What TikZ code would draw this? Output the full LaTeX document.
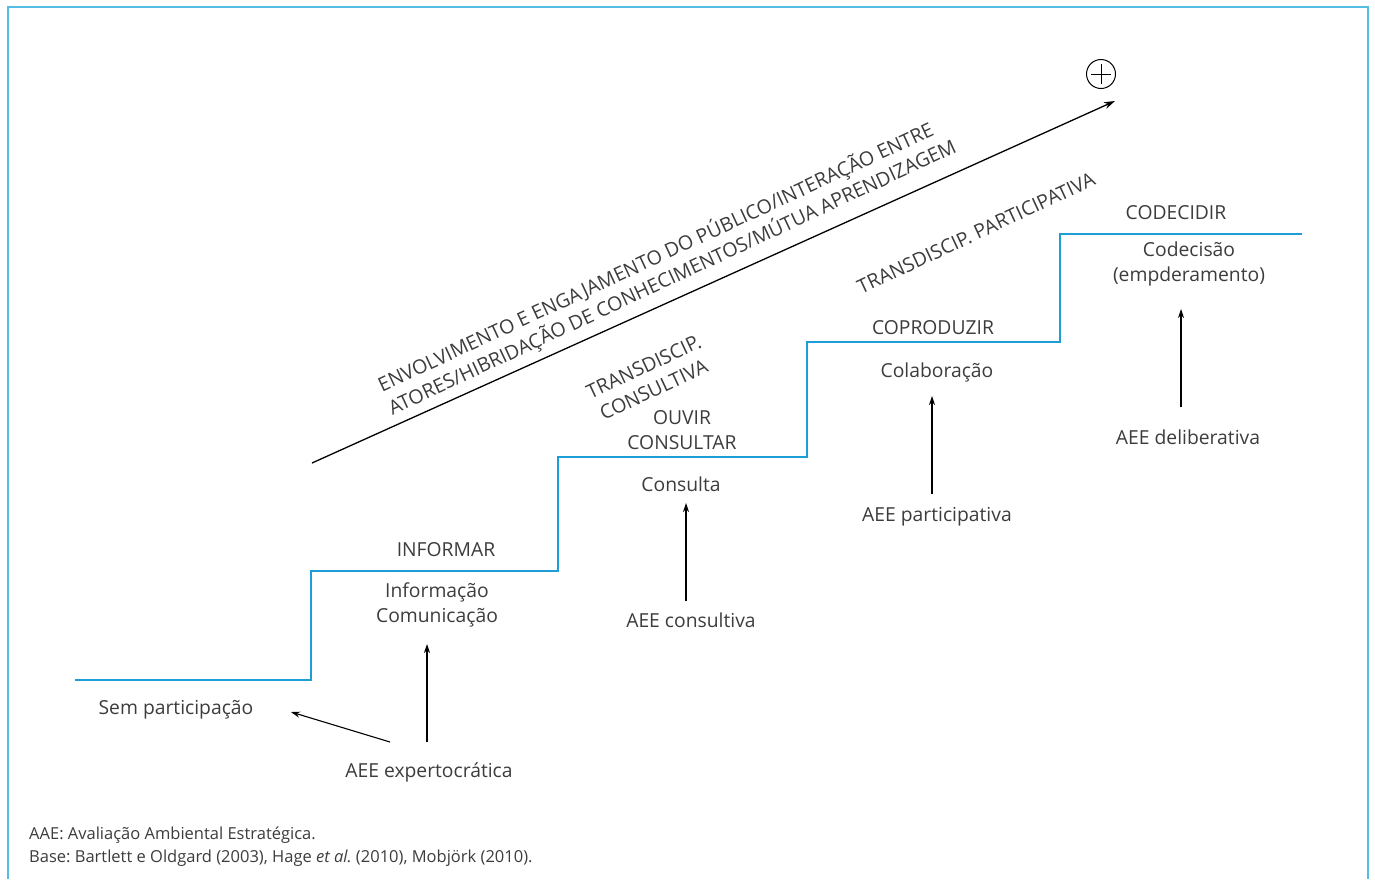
\documentclass[tikz,border=0pt]{standalone}
\usepackage{fontspec}
\setmainfont{Open Sans}
\usetikzlibrary{arrows.meta,calc}
\definecolor{frameblue}{RGB}{85,188,228}
\definecolor{stairblue}{RGB}{30,158,215}
\definecolor{txt}{RGB}{60,60,60}
\frenchspacing
\begin{document}
\begin{tikzpicture}[x=1pt,y=-1pt,
  font=\fontsize{19.3}{25}\selectfont,
  lbl/.style={text=txt, inner sep=0pt, align=center},
  diag/.style={text=txt, inner sep=0pt, align=left, rotate=25, font=\fontsize{19.6}{25}\selectfont},
  note/.style={text=txt, inner sep=0pt, anchor=west, font=\fontsize{16.5}{20}\selectfont},
  arr/.style={-{Stealth[length=9pt,width=6pt]}, line width=1.1pt, black},
  stair/.style={stairblue, line width=1.8pt},
  frame/.style={frameblue, line width=2.2pt}]
\useasboundingbox (0,0) rectangle (1375,879);
% frame
\draw[frame] (8,879) -- (8,7) -- (1368,7) -- (1368,879);
% staircase
\coordinate (s0) at (75,680);
\coordinate (s1) at (311,680);
\coordinate (s2) at (311,571);
\coordinate (s3) at (558,571);
\coordinate (s4) at (558,457);
\coordinate (s5) at (807,457);
\coordinate (s6) at (807,342);
\coordinate (s7) at (1060,342);
\coordinate (s8) at (1060,234);
\coordinate (s9) at (1302,234);
\draw[stair] (s0) -- (s1) -- (s2) -- (s3) -- (s4) -- (s5) -- (s6) -- (s7) -- (s8) -- (s9);
% big arrow and plus
\coordinate (ga) at (312,463);
\coordinate (gb) at (1115,101);
\draw[-{Stealth[length=11pt,width=7pt]}, line width=1.3pt] (ga) -- (gb);
\node[draw, circle, line width=1pt, minimum size=29pt, inner sep=0pt] (plus) at (1101,74) {};
\draw[line width=1pt] ($(plus.center)+(-10,0)$) -- ($(plus.center)+(10,0)$);
\draw[line width=1pt] ($(plus.center)+(0,-10)$) -- ($(plus.center)+(0,10)$);
% diagonal texts
\node[diag] (dmain) at (667,266) {ENVOLVIMENTO E ENGAJAMENTO DO PÚBLICO/INTERAÇÃO ENTRE\\ATORES/HIBRIDAÇÃO DE CONHECIMENTOS/MÚTUA APRENDIZAGEM};
\node[diag] (dcons) at (649,378) {TRANSDISCIP.\\\hspace*{3pt}CONSULTIVA};
\node[diag] (dpart) at (976,233) {TRANSDISCIP. PARTICIPATIVA};
% step labels
\node[lbl] (inf) at (446,550) {INFORMAR};
\node[lbl] (info) at (437,605) {Informação\\Comunicação};
\node[lbl] (ouv) at (682,430) {OUVIR\\CONSULTAR};
\node[lbl] (cons) at (681,484) {Consulta};
\node[lbl] (cop) at (933,328) {COPRODUZIR};
\node[lbl] (colab) at (937,372) {Colaboração};
\node[lbl] (cod) at (1176,213) {CODECIDIR};
\node[lbl] (codec) at (1189,264) {Codecisão\\(empderamento)};
\node[lbl] (sem) at (176,710) {Sem participação};
% AEE labels
\node[lbl] (aexp) at (429,772) {AEE expertocrática};
\node[lbl] (acons) at (691,620) {AEE consultiva};
\node[lbl] (apart) at (937,517) {AEE participativa};
\node[lbl] (adel) at (1188,437) {AEE deliberativa};
% arrow end points
\coordinate (t0) at (291,712);
\coordinate (t1) at (427,644);
\coordinate (t2) at (686,503);
\coordinate (t3) at (932,396);
\coordinate (t4) at (1181,309);
\coordinate (f0) at (390,742);
\coordinate (f1) at (427,742);
\coordinate (f2) at (686,601);
\coordinate (f3) at (932,494);
\coordinate (f4) at (1181,407);
% arrows
\draw[arr] (f0) -- (t0);
\draw[arr] (f1) -- (t1);
\draw[arr] (f2) -- (t2);
\draw[arr] (f3) -- (t3);
\draw[arr] (f4) -- (t4);
% notes
\node[note] (n1) at (29,835) {AAE: Avaliação Ambiental Estratégica.};
\node[note] (n2) at (29,858) {Base: Bartlett e Oldgard (2003), Hage \textit{et al.}\ (2010), Mobjörk (2010).};
\end{tikzpicture}
\end{document}
